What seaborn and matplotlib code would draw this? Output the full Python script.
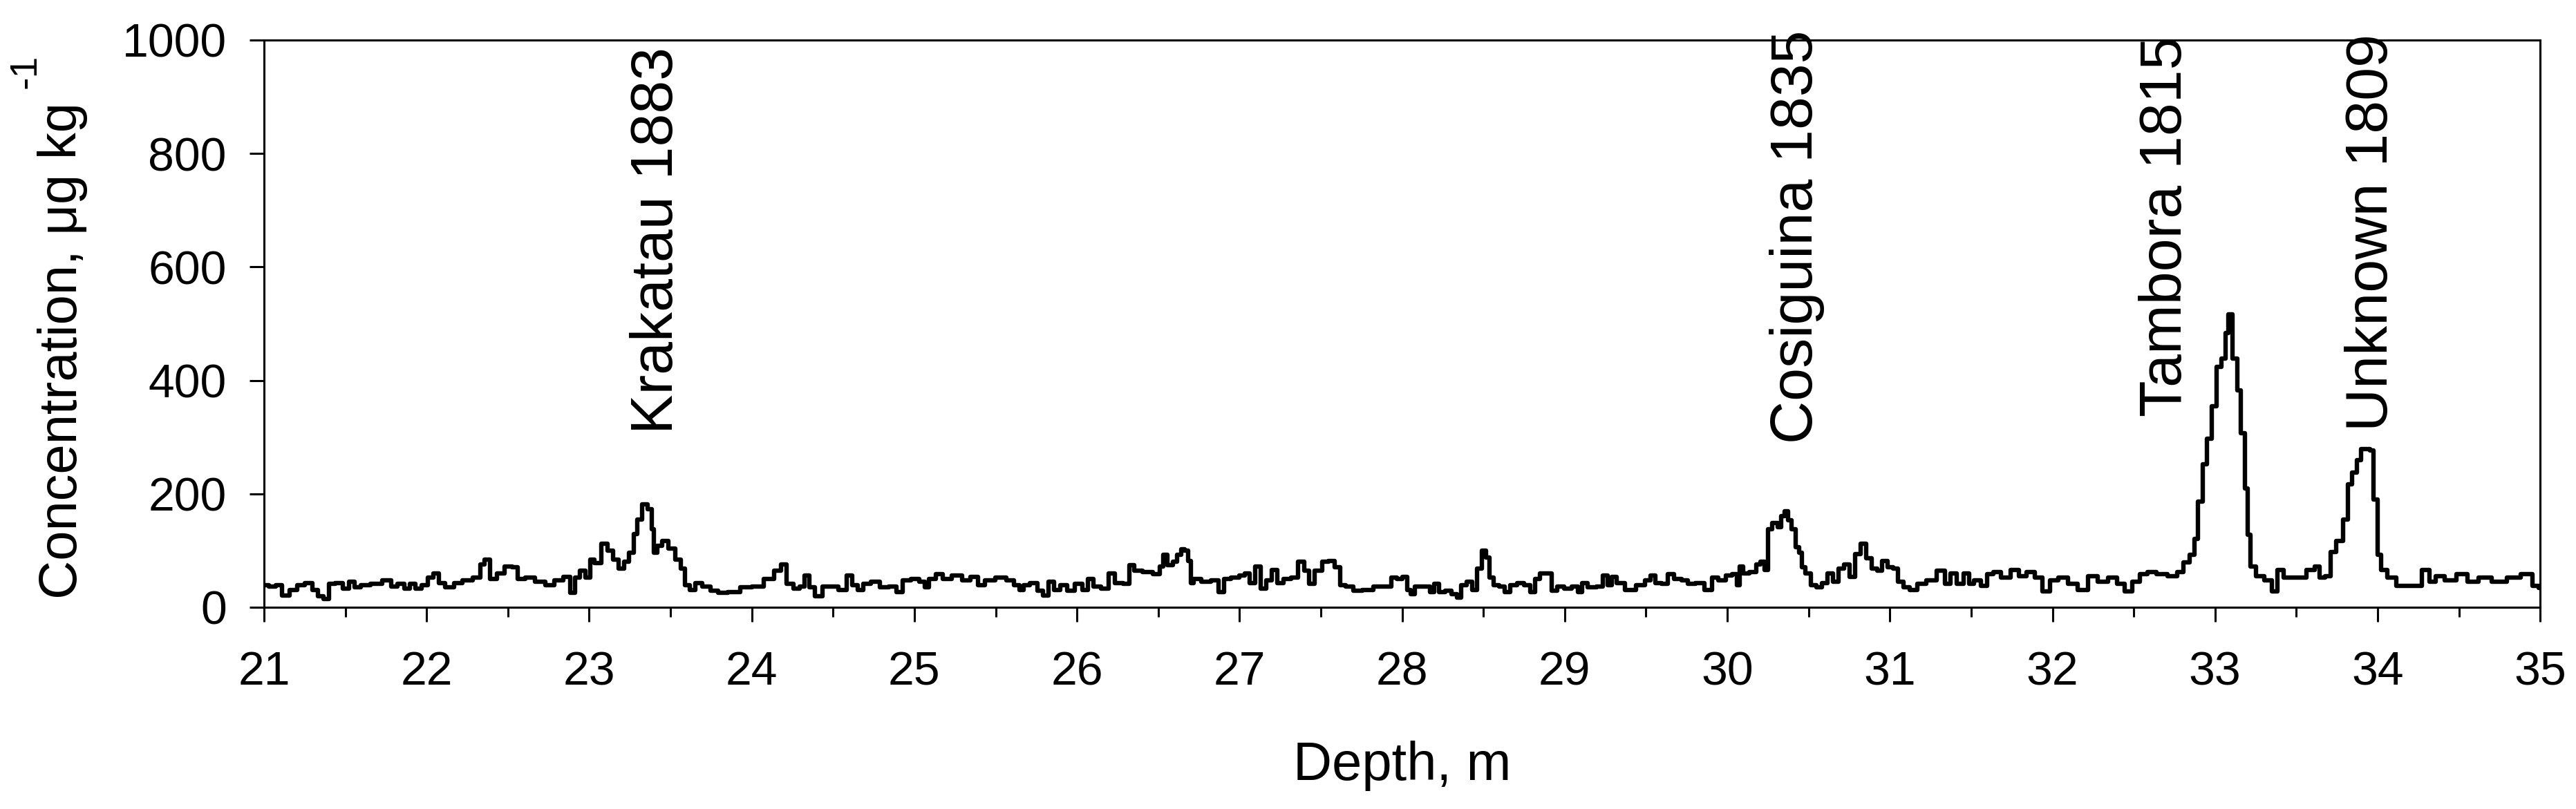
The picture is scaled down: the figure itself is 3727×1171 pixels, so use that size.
import pandas as pd
import seaborn as sns
import matplotlib.pyplot as plt
from matplotlib.ticker import MultipleLocator

sns.set_theme(style="ticks")
plt.rcParams['font.family'] = ['Liberation Sans', 'DejaVu Sans']

# depth (m) / concentration (ug/kg) in four stretches
depth_a = [21.00, 21.056, 21.09, 21.135, 21.18, 21.225, 21.28, 21.315, 21.35, 21.383,
           21.417, 21.46, 21.507, 21.54, 21.574, 21.62, 21.687, 21.766, 21.80, 21.845,
           21.878, 21.912, 21.946, 21.99, 22.025, 22.06, 22.09, 22.14, 22.194, 22.25,
           22.318, 22.34, 22.374, 22.408, 22.453, 22.509, 22.543, 22.577, 22.633, 22.70,
           22.757, 22.813, 22.87, 22.90, 22.926, 22.96, 22.993, 23.016, 23.05, 23.095,
           23.128, 23.162, 23.196, 23.23, 23.263, 23.286, 23.309, 23.342, 23.376, 23.394,
           23.403, 23.432, 23.466, 23.511, 23.545, 23.579, 23.601, 23.635, 23.669, 23.725,
           23.77, 23.815, 23.894, 23.962, 24.04, 24.108, 24.164, 24.198, 24.232, 24.277,
           24.311, 24.34, 24.367, 24.412, 24.457]
conc_a = [39, 37, 39, 21, 31, 39, 43, 31, 19, 15,
          41, 43, 33, 45, 35, 39, 41, 47, 37, 41,
          33, 41, 33, 39, 52, 60, 43, 35, 43, 47,
          52, 76, 84, 50, 60, 72, 70, 50, 52, 45,
          39, 47, 54, 25, 52, 64, 52, 84, 78, 112,
          100, 84, 68, 80, 96, 129, 155, 181, 173, 137,
          96, 108, 117, 104, 84, 68, 39, 31, 43, 37,
          29, 25, 27, 35, 37, 50, 64, 76, 41, 33,
          37, 56, 35, 19, 37]

depth_b = [24.5, 24.568, 24.60, 24.635, 24.669, 24.703, 24.759, 24.815, 24.872, 24.905,
           24.95, 25.007, 25.052, 25.074, 25.108, 25.153, 25.198, 25.266, 25.322, 25.367,
           25.412, 25.457, 25.536, 25.592, 25.637, 25.66, 25.682, 25.739, 25.773, 25.806,
           25.84, 25.874, 25.919, 25.964, 26.009, 26.054, 26.077, 26.122, 26.178, 26.212,
           26.257, 26.313, 26.336, 26.37, 26.437, 26.493, 26.527, 26.538, 26.572, 26.606,
           26.628, 26.651, 26.673, 26.696, 26.707, 26.73, 26.797, 26.854, 26.887, 26.921,
           26.977, 27.023, 27.045, 27.079, 27.113, 27.146, 27.18, 27.214, 27.248, 27.293,
           27.338, 27.383, 27.417, 27.439, 27.484, 27.53, 27.563, 27.608, 27.631, 27.676,
           27.72, 27.788, 27.856, 27.923, 27.946, 27.986]
conc_b = [37, 31, 56, 39, 31, 41, 45, 35, 37, 27,
          47, 50, 45, 35, 50, 58, 50, 56, 47, 54,
          39, 47, 52, 47, 39, 31, 39, 43, 29, 21,
          45, 31, 39, 29, 41, 31, 50, 37, 33, 60,
          43, 41, 74, 64, 62, 58, 72, 92, 74, 80,
          92, 102, 100, 82, 43, 50, 45, 47, 27, 50,
          52, 56, 60, 43, 72, 33, 47, 66, 43, 50,
          52, 80, 64, 41, 64, 80, 82, 70, 39, 37,
          29, 31, 37, 37, 52, 50]

depth_c = [28.018, 28.041, 28.063, 28.097, 28.153, 28.187, 28.21, 28.243, 28.289, 28.322,
           28.35, 28.379, 28.413, 28.446, 28.476, 28.503, 28.53, 28.543, 28.582, 28.615,
           28.649, 28.683, 28.728, 28.773, 28.807, 28.83, 28.863, 28.908, 28.931, 28.976,
           29.021, 29.066, 29.10, 29.111, 29.168, 29.224, 29.247, 29.28, 29.303, 29.337,
           29.404, 29.472, 29.517, 29.54, 29.573, 29.619, 29.652, 29.697, 29.743, 29.776,
           29.833, 29.889, 29.923, 29.968, 30.013, 30.047, 30.07, 30.081, 30.115, 30.16,
           30.193, 30.216, 30.239, 30.261, 30.295, 30.324, 30.34, 30.363, 30.385, 30.408,
           30.43, 30.453, 30.464, 30.498, 30.532, 30.565, 30.60, 30.633, 30.667, 30.70,
           30.734, 30.768, 30.802, 30.836, 30.87, 30.904, 30.937, 30.971, 31.005, 31.039,
           31.061, 31.106, 31.14, 31.197, 31.253, 31.32, 31.354, 31.388, 31.433, 31.474]
conc_c = [54, 31, 23, 37, 37, 27, 41, 27, 29, 23,
          17, 39, 45, 31, 68, 100, 88, 52, 39, 37,
          27, 39, 43, 39, 27, 50, 60, 60, 29, 37,
          33, 37, 27, 43, 35, 37, 56, 39, 54, 43,
          31, 39, 47, 56, 43, 41, 58, 50, 47, 41,
          43, 31, 52, 47, 56, 58, 39, 72, 60, 62,
          76, 80, 66, 137, 149, 141, 161, 169, 153, 137,
          106, 96, 70, 60, 39, 35, 43, 60, 45, 68,
          76, 54, 94, 112, 86, 68, 64, 82, 70, 68,
          45, 35, 31, 41, 47, 64, 41, 60, 41, 60]

depth_d = [31.5, 31.535, 31.581, 31.615, 31.661, 31.707, 31.776, 31.811, 31.869, 31.915,
           31.961, 32.007, 32.065, 32.122, 32.191, 32.249, 32.306, 32.376, 32.422, 32.468,
           32.514, 32.56, 32.606, 32.675, 32.744, 32.79, 32.825, 32.859, 32.887, 32.906,
           32.94, 32.963, 32.998, 33.021, 33.055, 33.071, 33.09, 33.124, 33.147, 33.171,
           33.194, 33.205, 33.228, 33.274, 33.332, 33.366, 33.401, 33.447, 33.528, 33.597,
           33.631, 33.654, 33.70, 33.724, 33.77, 33.804, 33.827, 33.862, 33.885, 33.908,
           33.942, 33.965, 33.988, 34.012, 34.035, 34.081, 34.15, 34.242, 34.30, 34.334,
           34.38, 34.449, 34.518, 34.588, 34.657, 34.749, 34.841, 34.922, 34.979, 35.0]
conc_d = [41, 48, 38, 59, 62, 52, 66, 55, 62, 52,
          28, 48, 52, 41, 31, 55, 45, 52, 41, 28,
          45, 59, 62, 59, 55, 62, 79, 93, 121, 186,
          252, 297, 355, 424, 438, 483, 517, 438, 383, 307,
          210, 128, 72, 55, 48, 28, 66, 52, 52, 66,
          72, 52, 55, 97, 117, 155, 217, 238, 259, 279,
          279, 276, 190, 93, 66, 52, 38, 38, 66, 45,
          55, 48, 59, 45, 52, 45, 52, 59, 38, 34]

events = ['Krakatau 1883', 'Cosiguina 1835', 'Tambora 1815', 'Unknown 1809']
event_depth = [23.42, 30.43, 32.70, 33.965]
event_base = [306, 289, 336, 310]

df = pd.DataFrame({
    'depth': depth_a + depth_b + depth_c + depth_d,
    'conc': conc_a + conc_b + conc_c + conc_d,
})

fig = plt.figure(figsize=(37.27, 11.71), dpi=100)
ax = fig.add_axes([0.1025, 0.2494, 0.8836, 0.7011])

sns.lineplot(data=df, x='depth', y='conc', ax=ax, color='black', linewidth=4.6,
             drawstyle='steps-mid', estimator=None)

for name, d, base in zip(events, event_depth, event_base):
    ax.text(d, base, name, rotation=90, ha='center', va='bottom', fontsize=62, color='black')

ax.set_xlim(21, 35)
ax.set_ylim(0, 1000)
ax.xaxis.set_major_locator(MultipleLocator(1))
ax.xaxis.set_minor_locator(MultipleLocator(0.5))
ax.yaxis.set_major_locator(MultipleLocator(200))

for side in ['left', 'right', 'top', 'bottom']:
    ax.spines[side].set_visible(True)
    ax.spines[side].set_linewidth(2.2)
    ax.spines[side].set_color('black')

ax.tick_params(axis='both', which='both', direction='out', color='black', width=2.2,
               top=False, right=False, labelcolor='black')
ax.tick_params(axis='x', which='major', length=15, labelsize=49, pad=30)
ax.tick_params(axis='x', which='minor', length=10)
ax.tick_params(axis='y', which='major', length=15, labelsize=49, pad=24)
ax.tick_params(axis='y', which='minor', left=False)

ax.set_xlabel('Depth, m', fontsize=56, color='black')
ax.set_ylabel('Concentration, μg kg', fontsize=56, color='black')
ax.xaxis.set_label_coords(0.5, -0.235)
ax.yaxis.set_label_coords(-0.0775, 0.452)
ax.grid(False)

# raised "-1" after the unit, as in the original figure
fig.canvas.draw()
bb = ax.yaxis.label.get_window_extent()
W, H = fig.bbox.width, fig.bbox.height
fig.text(38 / W, (bb.y1 + 20) / H, '-1', rotation=90,
         ha='center', va='bottom', fontsize=40, color='black')

fig.savefig('out.png', dpi=100, facecolor='white')
